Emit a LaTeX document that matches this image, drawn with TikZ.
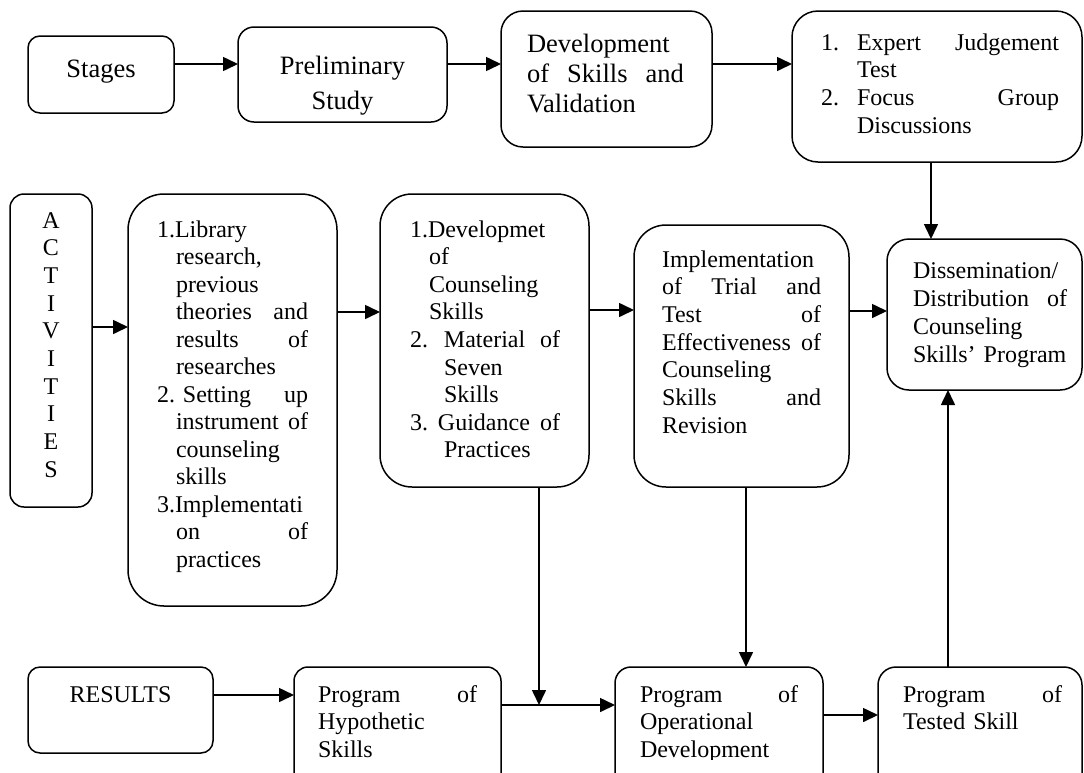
\documentclass[tikz,border=0pt]{standalone}
\usepackage{fontspec}
\setmainfont{Liberation Serif}
\usetikzlibrary{arrows.meta}
\begin{document}
\begin{tikzpicture}[x=1pt,y=-1pt,
  box/.style={draw, line width=1.5pt, inner sep=0pt, outer sep=0pt},
  txt/.style={inner sep=0pt, outer sep=0pt, anchor=base west, align=left,
              font=\fontsize{24}{27.7}\selectfont},
  bigtxt/.style={font=\fontsize{26.5}{30}\selectfont},
  arr/.style={line width=1.6pt, -{Triangle[length=15pt,width=14pt]}}]
\useasboundingbox (0,0) rectangle (1084,772);
\clip (0,0) rectangle (1084,772);

% ---------- boxes ----------
\node[box, rounded corners=12pt, minimum width=146pt, minimum height=77pt]  (stages) at (101,74.5) {};
\node[box, rounded corners=16pt, minimum width=209pt, minimum height=95pt]  (prelim) at (342.5,74.5) {};
\node[box, rounded corners=22pt, minimum width=211pt, minimum height=136pt] (dev) at (606.5,79) {};
\node[box, rounded corners=26pt, minimum width=290pt, minimum height=151pt] (expert) at (937,86.5) {};

\node[box, rounded corners=14pt, minimum width=82pt,  minimum height=313pt] (activities) at (51,350.5) {};
\node[box, rounded corners=36pt, minimum width=209pt, minimum height=412pt] (library) at (232.5,400) {};
\node[box, rounded corners=32pt, minimum width=209pt, minimum height=293pt] (devskills) at (484.5,340.5) {};
\node[box, rounded corners=32pt, minimum width=215pt, minimum height=262pt] (impl) at (741.5,356) {};
\node[box, rounded corners=22pt, minimum width=195pt, minimum height=151pt] (dissem) at (984.5,314.5) {};

\node[box, rounded corners=12pt, minimum width=185pt, minimum height=86pt]  (results) at (120.5,710) {};
\node[box, rounded corners=14pt, minimum width=207pt, minimum height=133pt] (hypo) at (397.5,733.5) {};
\node[box, rounded corners=16pt, minimum width=208pt, minimum height=133pt] (oper) at (719,733.5) {};
\node[box, rounded corners=18pt, minimum width=204pt, minimum height=133pt] (tested) at (980,733.5) {};

% ---------- texts ----------
\node[txt, bigtxt, anchor=base] (tstages) at (101,77) {Stages};
\node[txt, text width=209pt, align=center, font=\fontsize{26.5}{35}\selectfont] (tprelim) at (238,74.3) {Preliminary\\Study};
\node[txt, bigtxt, text width=157pt] (tdev) at (527,52) {Development\\of\hfill Skills\hfill and\\Validation};
\node[txt, text width=238pt] (texpert) at (821,50)
  {\makebox[36pt][l]{1.}Expert\hfill Judgement\\
   \hspace*{36pt}Test\\
   \makebox[36pt][l]{2.}Focus\hfill Group\\
   \hspace*{36pt}Discussions};

\node[txt, anchor=base, text width=40pt, align=center] (tact) at (51,228)
  {A\\C\\T\\I\\V\\I\\T\\I\\E\\S};
\node[txt, text width=151pt, font=\fontsize{24}{27.5}\selectfont] (tlib) at (157,237)
  {1.Library\\
   \hspace*{19pt}research,\\
   \hspace*{19pt}previous\\
   \hspace*{19pt}theories\hfill and\\
   \hspace*{19pt}results\hfill of\\
   \hspace*{19pt}researches\\
   2.\ Setting\hfill up\\
   \hspace*{19pt}instrument\hfill of\\
   \hspace*{19pt}counseling\\
   \hspace*{19pt}skills\\
   3.Implementati\\
   \hspace*{19pt}on\hfill of\\
   \hspace*{19pt}practices};
\node[txt, text width=150pt, font=\fontsize{24}{27.6}\selectfont] (tdevskills) at (410,237)
  {1.Developmet\\
   \hspace*{19pt}of\\
   \hspace*{19pt}Counseling\\
   \hspace*{19pt}Skills\\
   \makebox[34pt][l]{2.}Material\hfill of\\
   \hspace*{34pt}Seven\\
   \hspace*{34pt}Skills\\
   \makebox[28pt][l]{3.}Guidance\hfill of\\
   \hspace*{34pt}Practices};
\node[txt, text width=159pt] (timpl) at (662,267)
  {Implementation\\
   of\hfill Trial\hfill and\\
   Test\hfill of\\
   Effectiveness\hfill of\\
   Counseling\\
   Skills\hfill and\\
   Revision};
\node[txt, text width=154pt, font=\fontsize{24}{28}\selectfont] (tdissem) at (913,278)
  {Dissemination/\\
   Distribution\hfill of\\
   Counseling\\
   Skills’ Program};

\node[txt, anchor=base] (tresults) at (120.5,702) {RESULTS};
\begin{scope}
\clip (0,0) rectangle (1084,759);
\node[txt, text width=159pt, font=\fontsize{24}{27.8}\selectfont] (thypo) at (318,702)
  {Program\hfill of\\Hypothetic\\Skills};
\node[txt, text width=158pt, font=\fontsize{24}{27.8}\selectfont] (toper) at (640,702)
  {Program\hfill of\\Operational\\Development};
\node[txt, text width=159pt, font=\fontsize{24}{27.8}\selectfont] (ttested) at (903,702)
  {Program\hfill of\\Tested Skill};
\end{scope}

% ---------- connectors ----------
\coordinate (rowA) at (0,64);
\draw[arr] (stages.east |- rowA) -- (prelim.west |- rowA);
\draw[arr] (prelim.east |- rowA) -- (dev.west |- rowA);
\draw[arr] (dev.east |- rowA) -- (expert.west |- rowA);
\coordinate (colE) at (931,0);
\draw[arr] (expert.south -| colE) -- (dissem.north -| colE);

\coordinate (rowB1) at (0,327);
\coordinate (rowB2) at (0,312);
\coordinate (rowB3) at (0,310);
\coordinate (rowB4) at (0,311);
\draw[arr] (activities.east |- rowB1) -- (library.west |- rowB1);
\draw[arr] (library.east |- rowB2) -- (devskills.west |- rowB2);
\draw[arr] (devskills.east |- rowB3) -- (impl.west |- rowB3);
\draw[arr] (impl.east |- rowB4) -- (dissem.west |- rowB4);

\coordinate (join) at (539,705);
\draw[arr] (devskills.south -| join) -- (join);
\coordinate (colI) at (746,0);
\draw[arr] (impl.south -| colI) -- (oper.north -| colI);

\coordinate (rowC1) at (0,695);
\coordinate (rowC2) at (0,705);
\coordinate (rowC3) at (0,715);
\draw[arr] (results.east |- rowC1) -- (hypo.west |- rowC1);
\draw[arr] (hypo.east |- rowC2) -- (oper.west |- rowC2);
\draw[arr] (oper.east |- rowC3) -- (tested.west |- rowC3);
\coordinate (colT) at (948,0);
\draw[arr] (tested.north -| colT) -- (dissem.south -| colT);
\end{tikzpicture}
\end{document}
